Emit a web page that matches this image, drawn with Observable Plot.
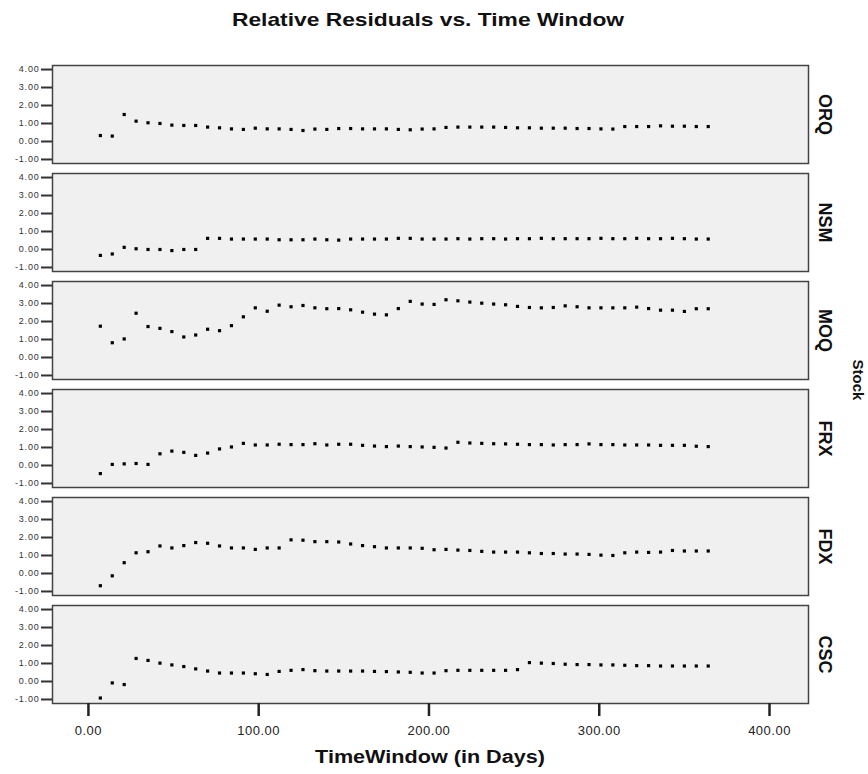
<!DOCTYPE html>
<html>
<head>
<meta charset="utf-8">
<script src="https://cdn.jsdelivr.net/npm/d3@7"></script>
<script src="https://cdn.jsdelivr.net/npm/@observablehq/plot@0.6"></script>
<style>
  body { margin: 0; background: #fff; }
  #wrap { position: relative; width: 868px; height: 774px; font-family: "Liberation Sans", Arial, sans-serif; color: #111; }
  #title { position: absolute; top: 9px; left: 0; width: 856px; text-align: center; font-weight: bold; font-size: 19px; transform: scaleX(1.2); transform-origin: 428px 0; }
  #chart { position: absolute; top: 45px; left: 0; z-index: 2; }
  #chart svg { display: block; }
  #xlabel { position: absolute; top: 747px; left: 52px; width: 756px; text-align: center; font-weight: bold; font-size: 18px; transform: scaleX(1.2); transform-origin: 378px 0; }
  #stock { position: absolute; left: 858px; top: 380px; transform: translate(-50%, -50%) rotate(90deg); font-weight: bold; font-size: 15px; white-space: nowrap; }
  #chart g[aria-label="y-axis tick label"] text { letter-spacing: 0.8px; }
  #chart g[aria-label="x-axis tick label"] text { letter-spacing: 0.5px; }
</style>
</head>
<body>
<div id="wrap">
  <div id="title">Relative Residuals vs. Time Window</div>
  <div id="xlabel">TimeWindow (in Days)</div>
  <div id="stock">Stock</div>
  <div id="chart"></div>
</div>
<script>
const stocks = ["ORQ", "NSM", "MOQ", "FRX", "FDX", "CSC"];
const days = [7,14,21,28,35,42,49,56,63,70,77,84,91,98,105,112,119,126,133,140,147,154,161,168,175,182,189,196,203,210,217,224,231,238,245,252,259,266,273,280,287,294,301,308,315,322,329,336,343,350,357,364];
const xTicks = [0, 100, 200, 300, 400];
const yTicks = [-1, 0, 1, 2, 3, 4];

const ORQ = [0.33,0.30,1.50,1.13,1.04,1.00,0.91,0.89,0.89,0.80,0.76,0.70,0.67,0.74,0.70,0.70,0.67,0.61,0.69,0.67,0.72,0.72,0.70,0.70,0.70,0.67,0.65,0.69,0.70,
             0.78,0.80,0.80,0.80,0.80,0.78,0.76,0.76,0.74,0.74,0.74,0.72,0.72,0.70,0.69,0.83,0.83,0.83,0.87,0.85,0.85,0.83,0.83];
const NSM = [-0.33,-0.25,0.12,0.04,0.00,0.00,-0.06,0.00,0.00,0.62,0.62,0.58,0.58,0.58,0.58,0.54,0.54,0.54,0.58,0.54,0.52,0.58,0.58,0.58,0.58,0.62,0.62,0.58,0.58,
             0.58,0.60,0.58,0.60,0.60,0.58,0.60,0.60,0.62,0.60,0.60,0.60,0.60,0.62,0.60,0.60,0.62,0.60,0.60,0.62,0.60,0.58,0.58];
const MOQ = [1.74,0.82,1.03,2.46,1.72,1.62,1.44,1.14,1.25,1.57,1.49,1.77,2.26,2.76,2.57,2.91,2.82,2.89,2.76,2.71,2.72,2.65,2.52,2.41,2.37,2.72,3.12,2.97,2.95,
             3.21,3.15,3.08,3.02,2.97,2.93,2.84,2.78,2.76,2.78,2.87,2.82,2.76,2.76,2.76,2.76,2.80,2.72,2.63,2.63,2.56,2.71,2.71];
const FRX = [-0.45,0.06,0.09,0.11,0.06,0.65,0.80,0.73,0.56,0.69,0.92,1.03,1.23,1.14,1.14,1.18,1.16,1.16,1.21,1.14,1.18,1.18,1.12,1.08,1.05,1.08,1.05,1.03,1.01,
             0.97,1.29,1.25,1.23,1.21,1.20,1.18,1.16,1.16,1.14,1.16,1.16,1.20,1.16,1.16,1.14,1.14,1.14,1.12,1.12,1.12,1.07,1.05];
const FDX = [-0.68,-0.13,0.60,1.15,1.21,1.53,1.42,1.55,1.72,1.68,1.53,1.42,1.42,1.34,1.42,1.42,1.87,1.85,1.77,1.77,1.75,1.64,1.55,1.49,1.42,1.42,1.42,1.40,1.32,
             1.34,1.30,1.28,1.23,1.19,1.19,1.19,1.15,1.11,1.11,1.08,1.08,1.06,1.02,1.00,1.15,1.19,1.17,1.19,1.28,1.25,1.25,1.25];
const CSC = [-0.92,-0.08,-0.17,1.28,1.17,1.02,0.92,0.83,0.70,0.58,0.47,0.47,0.47,0.43,0.39,0.56,0.62,0.66,0.60,0.58,0.58,0.58,0.58,0.56,0.55,0.53,0.51,0.47,0.47,
             0.60,0.62,0.62,0.62,0.62,0.62,0.66,1.05,1.02,1.00,0.96,0.94,0.94,0.92,0.92,0.90,0.88,0.88,0.86,0.86,0.86,0.86,0.86];

const series = {ORQ, NSM, MOQ, FRX, FDX, CSC};
const data = stocks.flatMap(s => series[s].map((v, i) => ({stock: s, day: days[i], value: v})));

const chart = Plot.plot({
  width: 868,
  height: 729,
  marginTop: 20,
  marginBottom: 71,
  marginLeft: 52,
  marginRight: 60,
  style: {fontFamily: "'Liberation Sans', Arial, sans-serif", overflow: "visible"},
  x: {domain: [-21.1, 422.9]},
  y: {domain: [-1.224, 4.224]},
  fy: {domain: stocks, paddingInner: 0.093, paddingOuter: 0, axis: null},
  marks: [
    Plot.frame({fill: "#f0f0f0", stroke: "#444", strokeWidth: 1.5}),
    Plot.axisY({ticks: yTicks, tickFormat: d => d.toFixed(2), tickSize: 11, tickPadding: 2, fontSize: 9, strokeWidth: 2, color: "#333", label: null}),
    Plot.dot(data, {x: "day", y: "value", fy: "stock", symbol: "square", r: 1.8, fill: "#000", stroke: null}),
    Plot.text(stocks, {fy: d => d, text: d => d, frameAnchor: "right", dx: 16, rotate: 90, textAnchor: "middle", lineAnchor: "middle", fontSize: 18, fontWeight: "bold", fill: "#111"}),
    Plot.axisX({ticks: xTicks, tickFormat: d => d.toFixed(2), tickSize: 13, tickPadding: 9, fontSize: 13, strokeWidth: 2.5, color: "#222", label: null})
  ]
});
document.getElementById("chart").appendChild(chart);
</script>
</body>
</html>
